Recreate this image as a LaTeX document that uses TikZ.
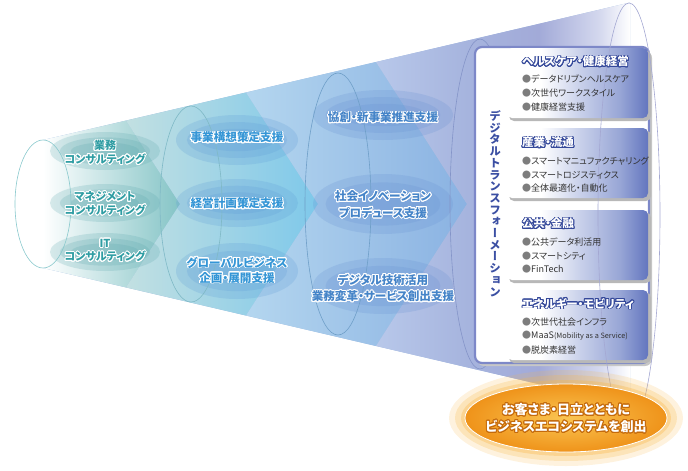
\documentclass[tikz,border=0pt]{standalone}
\usepackage{fontspec}
\setmainfont{Noto Sans CJK JP}[RawFeature=+palt]
\newfontfamily\jpv{Noto Sans CJK JP}[RawFeature=+vert]
\usepackage{contour}
\contourlength{0.9pt}
\contournumber{20}
\definecolor{tealtxt}{HTML}{2F9DA3}
\definecolor{bluetxt}{HTML}{3596D6}
\definecolor{bluetxtb}{HTML}{4584C8}
\definecolor{dxblue}{HTML}{3B4FA3}
\definecolor{titleblue}{HTML}{34489A}
\definecolor{itemgray}{HTML}{333333}
\definecolor{bulgray}{HTML}{7D7D7D}
\definecolor{orgline}{HTML}{C46A0C}
\definecolor{orgIn}{HTML}{FAC552}
\definecolor{orgOut}{HTML}{EF931A}
\definecolor{orgGlow}{HTML}{F8B84A}
\definecolor{sOneM}{HTML}{B6DCDC}
\definecolor{sOneR}{HTML}{84C4C6}
\definecolor{sTwoL}{HTML}{C2E0E2}
\definecolor{sTwoR}{HTML}{7EC8EA}
\definecolor{sThreeL}{HTML}{B4D6EF}
\definecolor{sThreeR}{HTML}{8AB2E2}
\definecolor{sFourA}{HTML}{B8C8EA}
\definecolor{sFourB}{HTML}{A6B4DE}
\definecolor{sFourC}{HTML}{A2AAD8}
\definecolor{sFourD}{HTML}{D4D8EE}
\definecolor{bxB}{HTML}{C8D0EA}
\definecolor{bxC}{HTML}{98A6D6}
\definecolor{bxD}{HTML}{6376BF}
\definecolor{blobA}{HTML}{5AA6AC}
\definecolor{blobB}{HTML}{5C9AD6}
\definecolor{blobC}{HTML}{6690D2}
\definecolor{ellA}{HTML}{88C8CC}
\definecolor{ellB}{HTML}{7FB9C6}
\definecolor{ellC}{HTML}{6F9FC8}
\definecolor{ellD}{HTML}{8494C8}
\definecolor{ellE}{HTML}{A4A8D2}
\definecolor{panelborder}{HTML}{7D88C8}
\definecolor{basefill}{HTML}{9CB8DE}
\pgfdeclarehorizontalshading{stagefour}{100bp}{color(0bp)=(sFourA); color(25bp)=(sFourA); color(43bp)=(sFourB); color(57bp)=(sFourC); color(69bp)=(sFourD); color(75bp)=(white); color(100bp)=(white)}
\pgfdeclarehorizontalshading{boxshade}{100bp}{color(0bp)=(white); color(37bp)=(white); color(51bp)=(bxB); color(65bp)=(bxC); color(75bp)=(bxD); color(100bp)=(bxD)}
\newcommand\softblob[4]{%
  \fill[#1,opacity=.22] #2 ellipse [x radius=#3, y radius=#4];
  \fill[#1,opacity=.22] #2 ellipse [x radius=0.82*#3, y radius=0.72*#4];
  \fill[#1,opacity=.22] #2 ellipse [x radius=0.62*#3, y radius=0.45*#4];
}
\newcommand\vc[1]{\contour{white}{#1}}
\tikzset{
  sonetxt/.style={align=center, inner sep=0pt, text=tealtxt, font=\bfseries\fontsize{11}{13.5}\selectfont},
  stwotxt/.style={align=center, inner sep=0pt, text=bluetxt, font=\bfseries\fontsize{11.6}{15}\selectfont},
  sthreetxt/.style={align=center, inner sep=0pt, text=bluetxtb, font=\bfseries\fontsize{11.6}{16.5}\selectfont},
  dxtxt/.style={align=center, inner sep=0pt, text=dxblue, font=\jpv\bfseries\fontsize{11.5}{11.7}\selectfont},
  btitle/.style={anchor=west, inner sep=0pt, text=white, font=\bfseries\fontsize{11.5}{13}\selectfont},
  bitem/.style={anchor=west, inner sep=0pt, text=itemgray, font=\fontsize{9}{11}\selectfont},
  ecotxt/.style={align=center, inner sep=0pt, text=white, font=\bfseries\fontsize{13}{17}\selectfont},
  ell/.style={line width=0.6pt}
}
\begin{document}
\begin{tikzpicture}[x=1pt,y=-1pt]
\useasboundingbox (0,0) rectangle (688,471);
% base funnel
\fill[basefill] (43,140) -- (630,2.5) -- (630,405.5) -- (43,268) -- cycle;
% stages (chevrons)
\shade[left color=white, middle color=sOneM, right color=sOneR]
  (43,140) -- (126,120.6) -- (180,204) -- (126,287.4) -- (43,268) -- cycle;
\shade[left color=sTwoL, right color=sTwoR]
  (126,120.6) -- (246,92.5) -- (318,204) -- (246,315.5) -- (126,287.4) -- (180,204) -- cycle;
\shade[left color=sThreeL, right color=sThreeR]
  (246,92.5) -- (376,62) -- (467,204) -- (376,346) -- (246,315.5) -- (318,204) -- cycle;
\shade[shading=stagefour]
  (376,62) -- (630,2.5) -- (630,405.5) -- (376,346) -- (467,204) -- cycle;
% soft blobs
\softblob{blobA}{(105,151)}{55}{19}
\softblob{blobA}{(105,203)}{55}{19}
\softblob{blobA}{(105,252)}{55}{19}
\softblob{blobB}{(237,140)}{61}{25}
\softblob{blobB}{(237,203)}{61}{24}
\softblob{blobB}{(237,271)}{61}{28}
\softblob{blobC}{(383,115)}{70}{25}
\softblob{blobC}{(383,204)}{70}{30}
\softblob{blobC}{(383,286)}{70}{28}
% ellipses
\draw[ell, ellA] (43,204) ellipse [x radius=28, y radius=64];
\draw[ell, ellB] (191,204) ellipse [x radius=31, y radius=98];
\draw[ell, ellC] (338,204) ellipse [x radius=33, y radius=131];
\draw[ell, ellD] (480,204) ellipse [x radius=30, y radius=165];
% panel
\fill[black!22, rounded corners=7pt] (477,51) rectangle (652,366);
\draw[panelborder, line width=2.2pt, fill=white, rounded corners=7pt] (475,47) rectangle (649,363);
% boxes
\foreach \t/\b in {48/118,128/198,210/280,290/360}{
  \fill[black!28, rounded corners=5pt] (509,\t+2.5) rectangle (651,\b+3);
  \shade[shading=boxshade, rounded corners=5pt] (507,\t) rectangle (648,\b);
}
\draw[ell, ellE] (629,215) ellipse [x radius=31, y radius=212];
% stage 1 texts
\node[sonetxt] (c1) at (105,153) {\contour{white}{業務}\\\contour{white}{コンサルティング}};
\node[sonetxt] (c2) at (105,204) {\contour{white}{マネジメント}\\\contour{white}{コンサルティング}};
\node[sonetxt] (c3) at (105,251) {\contour{white}{IT}\\\contour{white}{コンサルティング}};
% stage 2 texts
\node[stwotxt] (p1) at (237,138) {\contour{white}{事業構想策定支援}};
\node[stwotxt] (p2) at (237,204) {\contour{white}{経営計画策定支援}};
\node[stwotxt] (p3) at (237,270.5) {\contour{white}{グローバルビジネス}\\\contour{white}{企画・展開支援}};
% stage 3 texts
\node[sthreetxt] (q1) at (383,118) {\contour{white}{協創・新事業推進支援}};
\node[sthreetxt] (q2) at (383,205) {\contour{white}{社会イノベーション}\\\contour{white}{プロデュース支援}};
\node[sthreetxt] (q3) at (383,288.5) {\contour{white}{デジタル技術活用}\\\contour{white}{業務変革・サービス創出支援}};
% vertical DX
\node[dxtxt] (dx) at (495,204) {\vc{デ}\\\vc{ジ}\\\vc{タ}\\\vc{ル}\\\vc{ト}\\\vc{ラ}\\\vc{ン}\\\vc{ス}\\\vc{フ}\\\vc{ォ}\\\vc{ー}\\\vc{メ}\\\vc{ー}\\\vc{シ}\\\vc{ョ}\\\vc{ン}};
% box 1
\node[btitle] (t1) at (522,62) {\contour{titleblue}{ヘルスケア・健康経営}};
\node[bitem] (i11) at (522,79) {\textcolor{bulgray}{●}データドリブンヘルスケア};
\node[bitem] (i12) at (522,93) {\textcolor{bulgray}{●}次世代ワークスタイル};
\node[bitem] (i13) at (522,107) {\textcolor{bulgray}{●}健康経営支援};
% box 2
\node[btitle] (t2) at (522,143) {\contour{titleblue}{産業・流通}};
\node[bitem] (i21) at (522,161.5) {\textcolor{bulgray}{●}スマートマニュファクチャリング};
\node[bitem] (i22) at (522,175) {\textcolor{bulgray}{●}スマートロジスティクス};
\node[bitem] (i23) at (522,188) {\textcolor{bulgray}{●}全体最適化・自動化};
% box 3
\node[btitle] (t3) at (522,224) {\contour{titleblue}{公共・金融}};
\node[bitem] (i31) at (522,242) {\textcolor{bulgray}{●}公共データ利活用};
\node[bitem] (i32) at (522,256) {\textcolor{bulgray}{●}スマートシティ};
\node[bitem] (i33) at (522,269) {\textcolor{bulgray}{●}FinTech};
% box 4
\node[btitle] (t4) at (522,304) {\contour{titleblue}{エネルギー・モビリティ}};
\node[bitem] (i41) at (522,322) {\textcolor{bulgray}{●}次世代社会インフラ};
\node[bitem] (i42) at (522,336) {\textcolor{bulgray}{●}MaaS{\fontsize{7.3}{9}\selectfont(Mobility as a Service)}};
\node[bitem] (i43) at (522,350) {\textcolor{bulgray}{●}脱炭素経営};
% orange ellipse
\fill[orgGlow, opacity=.18] (566,418) ellipse [x radius=117, y radius=48];
\fill[orgGlow, opacity=.25] (566,418) ellipse [x radius=111, y radius=43];
\fill[orgGlow, opacity=.35] (566,418) ellipse [x radius=105, y radius=38];
\shade[inner color=orgIn, outer color=orgOut] (566,418) ellipse [x radius=101, y radius=34];
\draw[white, line width=0.8pt] (566,418) ellipse [x radius=101, y radius=34];
\node[ecotxt] (eco) at (566,418.5) {\contour{orgline}{お客さま・日立とともに}\\\contour{orgline}{ビジネスエコシステムを創出}};
\end{tikzpicture}
\end{document}
